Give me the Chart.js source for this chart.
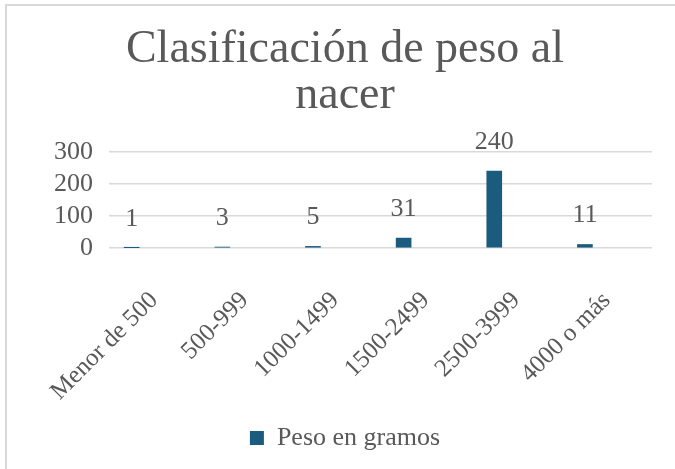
<!DOCTYPE html>
<html>
<head>
<meta charset="utf-8">
<script src="https://cdn.jsdelivr.net/npm/chart.js@4/dist/chart.umd.min.js"></script>
<style>
  html, body { margin: 0; padding: 0; background: #fff; overflow: hidden; }
  #wrap { position: relative; width: 675px; height: 469px; }
  #frame {
    position: absolute; left: 5px; top: 4px; right: -10px; bottom: -10px;
    border-top: 2px solid #d9d9d9; border-left: 2px solid #d9d9d9;
  }
  #chart { position: absolute; left: 0; top: 0; }
</style>
</head>
<body>
<div id="wrap">
  <div id="frame"></div>
  <canvas id="chart" width="675" height="469"></canvas>
</div>
<script>
// data
var categories = ["Menor de 500", "500-999", "1000-1499", "1500-2499", "2500-3999", "4000 o más"]
var pesoValues = [1, 3, 5, 31, 240, 11]
var yTicks = [0, 100, 200, 300]
var seriesName = "Peso en gramos"
var chartTitle = ["Clasificación de peso al", "nacer"]

var textColor = "#595959"
var barColor = "#1b5c7e"
var fontFamily = "'Liberation Serif', 'DejaVu Serif', serif"

// value labels above every bar
var valueLabels = {
    id: "valueLabels",
    afterDatasetsDraw: function (chart) {
        var ctx = chart.ctx
        var meta = chart.getDatasetMeta(0)
        ctx.save()
        ctx.fillStyle = textColor
        ctx.font = "26px " + fontFamily
        ctx.textAlign = "center"
        ctx.textBaseline = "middle"
        meta.data.forEach(function (bar, i) {
            ctx.fillText(String(pesoValues[i]), bar.x, bar.y - 29)
        })
        ctx.restore()
    }
}

var cnx = document.getElementById("chart")
var data = {
    labels: categories,
    datasets: [
        {
            label: seriesName,
            xAxisID: "xb",
            data: pesoValues.map(function (v, i) { return { x: i, y: v } }),
            backgroundColor: barColor,
            borderWidth: 0,
            barThickness: 15
        }
    ]
}

var pesoChart = new Chart(cnx, {
    type: "bar",
    data: data,
    plugins: [valueLabels],
    options: {
        responsive: false,
        animation: false,
        layout: {
            padding: { left: 38, right: 23, top: 0, bottom: 8 }
        },
        plugins: {
            title: {
                display: true,
                text: chartTitle,
                color: textColor,
                font: { family: fontFamily, size: 46, weight: "normal", lineHeight: 1.0 },
                padding: { top: 27, bottom: 33 }
            },
            legend: {
                display: true,
                position: "bottom",
                labels: {
                    color: textColor,
                    font: { family: fontFamily, size: 26 },
                    boxWidth: 14,
                    boxHeight: 14,
                    padding: 6
                }
            },
            tooltip: { enabled: false }
        },
        scales: {
            x: {
                type: "category",
                labels: categories,
                offset: true,
                grid: { display: false },
                border: { display: false },
                afterFit: function (axis) {
                    axis.height = 171
                },
                ticks: {
                    color: textColor,
                    font: { family: fontFamily, size: 25 },
                    minRotation: 45,
                    maxRotation: 45,
                    autoSkip: false,
                    padding: 30
                }
            },
            xb: {
                type: "linear",
                display: false,
                offset: false,
                min: -0.25,
                max: 5.74
            },
            y: {
                min: yTicks[0],
                max: yTicks[yTicks.length - 1],
                afterBuildTicks: function (axis) {
                    axis.ticks = yTicks.map(function (v) { return { value: v } })
                },
                grid: { color: "#d9d9d9", lineWidth: 1.5, drawTicks: false },
                border: { display: false },
                ticks: {
                    color: textColor,
                    font: { family: fontFamily, size: 26 },
                    autoSkip: false,
                    padding: 16
                }
            }
        }
    }
})
</script>
</body>
</html>
